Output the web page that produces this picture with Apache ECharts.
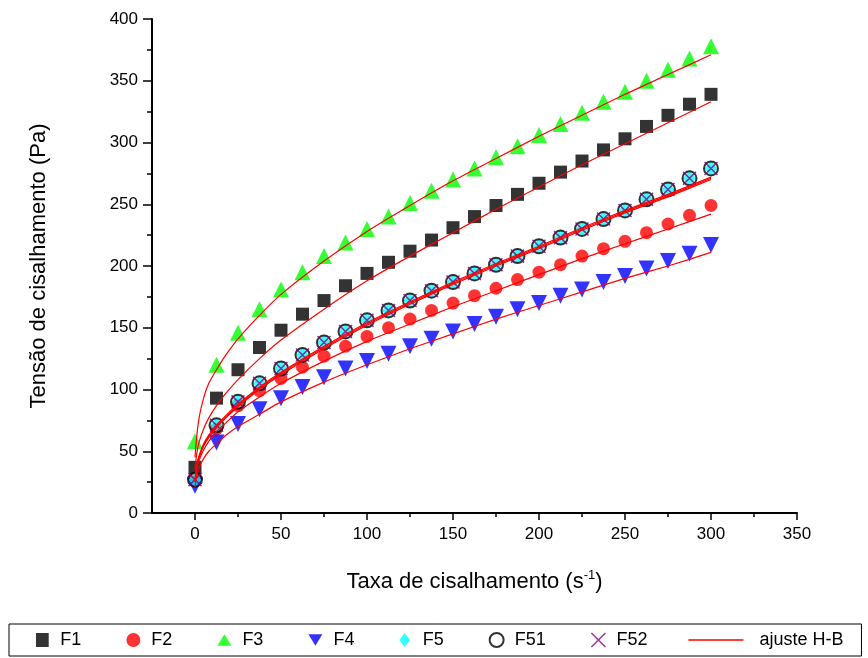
<!DOCTYPE html>
<html><head><meta charset="utf-8">
<script src="https://cdn.jsdelivr.net/npm/echarts@6/dist/echarts.min.js"></script>
<style>html,body{margin:0;padding:0;background:#fff}#c{width:868px;height:658px}</style>
</head><body><div id="c"></div>
<script>
// Shear rate (s^-1)
const shearRate = [0, 12.5, 25, 37.5, 50, 62.5, 75, 87.5, 100, 112.5, 125, 137.5, 150, 162.5, 175, 187.5, 200, 212.5, 225, 237.5, 250, 262.5, 275, 287.5, 300];
// Shear stress (Pa)
const F1 = [37, 93, 116, 134, 148, 161, 172, 184, 194, 203, 212, 221, 231, 240, 249, 258, 267, 276, 285, 294, 303, 313, 322, 331, 339];
const F2 = [28, 68, 87, 99, 109, 118, 127, 135, 143, 150, 157, 164, 170, 176, 182, 189, 195, 201, 208, 214, 220, 227, 234, 241, 249];
const F3 = [58, 120, 146, 165, 181, 195, 208, 219, 230, 240, 251, 261, 270, 279, 288, 297, 306, 315, 324, 333, 341, 350, 359, 368, 378];
const F4 = [22, 57, 72, 84, 93, 102, 110, 117, 123, 129, 135, 141, 147, 153, 159, 165, 170, 176, 181, 187, 192, 198, 204, 210, 217];
const F5 = [27, 71, 90, 105, 117, 128, 138, 147, 156, 164, 172, 180, 187, 194, 201, 208, 216, 223, 230, 238, 245, 254, 262, 271, 279];
const F51 = [27, 71, 90, 105, 117, 128, 138, 147, 156, 164, 172, 180, 187, 194, 201, 208, 216, 223, 230, 238, 245, 254, 262, 271, 279];
const F52 = [27, 71, 90, 105, 117, 128, 138, 147, 156, 164, 172, 180, 187, 194, 201, 208, 216, 223, 230, 238, 245, 254, 262, 271, 279];
// Herschel-Bulkley fit curves
const fitX = [0, 1, 2.5, 5, 8, 12.5, 18, 25, 37.5, 50, 75, 100, 125, 150, 175, 200, 225, 250, 275, 300];
const fitF1 = [35, 48, 58, 68, 77, 87, 97, 108, 125, 140, 165, 188, 208, 227, 246, 264, 282, 299, 316, 333];
const fitF2 = [25, 35, 43, 51, 58, 66, 73, 82, 94, 105, 123, 139, 153, 167, 180, 193, 206, 218, 230, 242];
const fitF3 = [45, 62, 78, 93, 105, 116, 128, 141, 160, 177, 204, 228, 249, 269, 287, 305, 322, 339, 355, 371];
const fitF4 = [21, 30, 37, 44, 50, 56, 63, 70, 80, 90, 106, 120, 133, 145, 157, 168, 179, 190, 200, 211];
const fitF5 = [26, 38, 46, 55, 62, 70, 78, 87, 101, 113, 134, 153, 170, 186, 201, 215, 230, 244, 257, 271];
const fitF51 = [27, 39, 47, 56, 63, 71, 79, 88, 102, 114, 135, 154, 171, 187, 202, 216, 231, 245, 258, 272];
const fitF52 = [26, 37, 45, 54, 61, 69, 77, 86, 100, 112, 133, 152, 169, 185, 200, 214, 229, 243, 256, 270];
// Axis ticks
const xMajorTicks = [0, 50, 100, 150, 200, 250, 300, 350];
const xMinorTicks = [25, 75, 125, 175, 225, 275, 325];

const FONT = 'Liberation Sans, Arial, sans-serif';
const pair = (xs, ys) => xs.map((x, i) => [x, ys[i]]);
const crossPath = 'path://M0,0L10,10M10,0L0,10';

function scatter(name, data, symbol, size, color, extra) {
  return Object.assign({
    name, type: 'scatter', data: pair(shearRate, data), symbol, symbolSize: size,
    itemStyle: { color }, z: 3
  }, extra || {});
}
function fit(data) {
  return {
    name: 'ajuste H-B', type: 'line', data: pair(fitX, data), symbol: 'none', smooth: 0.2,
    lineStyle: { color: '#ff0000', width: 1.2 }, itemStyle: { color: '#ff0000' }, z: 5
  };
}

const chart = echarts.init(document.getElementById('c'), null, { renderer: 'canvas' });
chart.setOption({
  animation: false,
  backgroundColor: '#ffffff',
  textStyle: { fontFamily: FONT },
  grid: { left: 152, right: 71, top: 19, bottom: 145, containLabel: false },
  xAxis: [{
    type: 'value', min: -25, max: 350,
    name: '{a|Taxa de cisalhamento (s}{b|-1}{a|)}',
    nameLocation: 'middle', nameGap: 56,
    nameTextStyle: { rich: { a: { fontSize: 22, fontFamily: FONT, color: '#000' }, b: { fontSize: 13, fontFamily: FONT, color: '#000', padding: [0, 0, 12, 0] } } },
    axisLine: { show: true, onZero: false, lineStyle: { color: '#000', width: 2 } },
    axisTick: { show: true, customValues: xMajorTicks, length: 7, lineStyle: { color: '#000', width: 1.5 } },
    axisLabel: { customValues: xMajorTicks, color: '#000', fontSize: 17, fontFamily: FONT, margin: 13 },
    splitLine: { show: false }
  }, {
    type: 'value', min: -25, max: 350, position: 'bottom', gridIndex: 0,
    axisLine: { show: false },
    axisTick: { show: true, customValues: xMinorTicks, length: 4, lineStyle: { color: '#000', width: 1.5 } },
    axisLabel: { show: false }, splitLine: { show: false }
  }],
  yAxis: {
    type: 'value', min: 0, max: 400, interval: 50,
    name: 'Tensão de cisalhamento (Pa)', nameLocation: 'middle', nameGap: 102,
    nameTextStyle: { fontSize: 22, fontFamily: FONT, color: '#000' },
    axisLine: { show: true, onZero: false, lineStyle: { color: '#000', width: 2 } },
    axisTick: { show: true, length: 9, lineStyle: { color: '#000', width: 1.5 } },
    minorTick: { show: true, splitNumber: 2, length: 5, lineStyle: { color: '#000', width: 1.5 } },
    axisLabel: { color: '#000', fontSize: 17, fontFamily: FONT, margin: 14 },
    splitLine: { show: false }
  },
  legend: {
    left: 9, top: 624, orient: 'horizontal',
    itemWidth: 14, itemHeight: 14, itemGap: 0,
    padding: [7, 18, 7, 27],
    borderColor: '#000', borderWidth: 1,
    textStyle: {
      fontSize: 18, fontFamily: FONT, color: '#000', padding: [0, 0, 0, 6],
      rich: {
        sp: { width: 45, fontSize: 18, height: 2, backgroundColor: '#ffffff' },
        sp2: { width: 22, fontSize: 18, height: 2, backgroundColor: '#ffffff' },
        ln: { width: 55, height: 1.5, backgroundColor: '#ff0000', verticalAlign: 'middle' },
        t: { fontSize: 18, fontFamily: FONT, color: '#000', padding: [0, 0, 0, 16] }
      }
    },
    formatter: (n) => n === 'ajuste H-B' ? '{ln| }{t|ajuste H-B}' : (n === 'F52' ? n + '{sp2| }' : n + '{sp| }'),
    data: [
      { name: 'F1', icon: 'path://M0,0H10V11H0Z' },
      { name: 'F2', icon: 'circle' },
      { name: 'F3', icon: 'path://M6,0L12,10L0,10Z' },
      { name: 'F4', icon: 'path://M0,0L12,0L6,10Z' },
      { name: 'F5', icon: 'path://M6,0L12,8L6,16L0,8Z' },
      { name: 'F51', icon: 'emptyCircle', itemStyle: { color: '#000000', borderColor: '#000000', borderWidth: 2 } },
      { name: 'F52', icon: crossPath, itemStyle: { color: '#800080', borderColor: '#800080', borderWidth: 1.5 } },
      { name: 'ajuste H-B', icon: 'path://M0,0H1V1H0Z', itemStyle: { opacity: 0 }, textStyle: { padding: [0, 0, 0, 0] } }
    ]
  },
  series: [
    scatter('F1', F1, 'rect', 13, '#000000'),
    scatter('F2', F2, 'circle', 13, '#ff0000'),
    scatter('F3', F3, 'triangle', 16, '#00ff00'),
    scatter('F4', F4, 'triangle', 16, '#0000ff', { symbolRotate: 180 }),
    scatter('F5', F5, 'diamond', [13, 16], '#00ffff'),
    scatter('F51', F51, 'circle', 14, '#000000', { itemStyle: { color: 'rgba(0,0,0,0)', borderColor: '#000000', borderWidth: 2 } }),
    scatter('F52', F52, crossPath, 13, '#800080', { itemStyle: { color: '#800080', borderColor: '#800080', borderWidth: 1.5 } }),
    fit(fitF1), fit(fitF2), fit(fitF3), fit(fitF4), fit(fitF5), fit(fitF51), fit(fitF52)
  ]
});
</script>
</body></html>
